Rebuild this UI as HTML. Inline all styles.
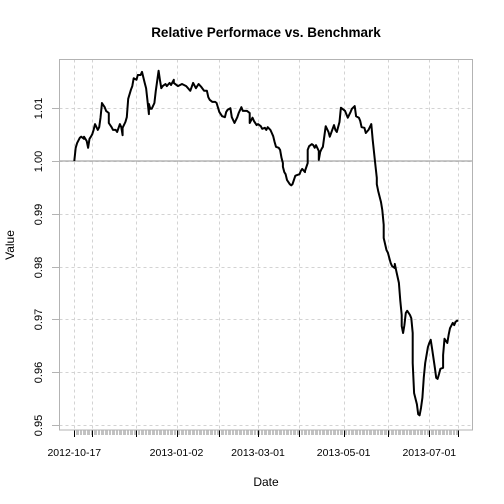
<!DOCTYPE html>
<html><head><meta charset="utf-8"><style>
html,body{margin:0;padding:0;background:#fff;}
svg{display:block;font-family:"Liberation Sans",Arial,sans-serif;}
</style></head><body>
<svg id="chart" width="504" height="504" viewBox="0 0 504 504">
<rect x="0" y="0" width="504" height="504" fill="#fff"/>
<text x="266" y="37" text-anchor="middle" font-size="13.5" font-weight="bold">Relative Performace vs. Benchmark</text>
<text x="266" y="486" text-anchor="middle" font-size="12">Date</text>
<text x="0" y="0" transform="translate(14,245) rotate(-90)" text-anchor="middle" font-size="12">Value</text>
<g id="grid"></g>
<g id="axes"></g>
<g id="series"></g>
<rect x="59.5" y="59.5" width="413" height="370.5" fill="none" stroke="#b3b3b3" stroke-width="1"/>
</svg>
<script>
const days=[0,1,2,4,5,7,7,9,10,11,12,13,14,15,17,18,19,20,20,22,23,25,25,27,28,30,31,33,34,35,35,37,38,39,41,42,43,45,46,48,49,51,52,53,54,54,55,56,58,59,61,62,63,64,66,67,69,70,72,72,75,78,81,84,86,88,90,92,94,96,97,98,100,102,103,105,107,109,110,111,113,114,116,118,119,121,122,124,125,127,127,129,130,132,133,135,136,138,139,140,142,143,144,145,146,148,149,150,151,151,152,153,154,156,157,158,159,160,161,163,164,165,167,167,169,169,170,172,173,174,175,177,177,178,179,180,182,184,185,188,189,190,192,193,195,196,198,200,201,203,204,206,207,208,210,211,213,215,216,218,219,219,220,222,223,224,224,226,227,229,230,232,232,233,235,236,237,237,238,239,240,241,243,244,245,245,246,248,249,250,251,252,253,254,256,257,258,259,261,262,263,264,265,267,267,268,270,271,272,274,275,276,277,278];
const values=[1.0000,1.0025,1.0034,1.0044,1.0046,1.0042,1.0046,1.0038,1.0025,1.0042,1.0046,1.0051,1.0059,1.0070,1.0059,1.0064,1.0082,1.0108,1.0110,1.0102,1.0095,1.0091,1.0072,1.0064,1.0059,1.0059,1.0055,1.0070,1.0064,1.0049,1.0063,1.0074,1.0083,1.0118,1.0135,1.0142,1.0157,1.0154,1.0163,1.0163,1.0169,1.0148,1.0138,1.0114,1.0089,1.0108,1.0099,1.0099,1.0110,1.0133,1.0171,1.0154,1.0138,1.0142,1.0146,1.0142,1.0148,1.0144,1.0154,1.0148,1.0142,1.0146,1.0142,1.0133,1.0148,1.0138,1.0146,1.0140,1.0133,1.0133,1.0121,1.0116,1.0112,1.0112,1.0110,1.0093,1.0085,1.0083,1.0093,1.0097,1.0100,1.0083,1.0072,1.0083,1.0091,1.0102,1.0095,1.0095,1.0095,1.0091,1.0072,1.0082,1.0076,1.0068,1.0070,1.0066,1.0061,1.0063,1.0059,1.0064,1.0059,1.0053,1.0047,1.0036,1.0027,1.0025,1.0021,1.0006,0.9996,0.9989,0.9979,0.9975,0.9964,0.9956,0.9954,0.9956,0.9964,0.9972,0.9973,0.9975,0.9981,0.9985,0.9979,0.9981,0.9996,1.0021,1.0028,1.0032,1.0030,1.0025,1.0030,1.0019,1.0002,1.0017,1.0023,1.0027,1.0066,1.0055,1.0046,1.0068,1.0059,1.0055,1.0074,1.0101,1.0097,1.0095,1.0082,1.0093,1.0099,1.0104,1.0085,1.0082,1.0076,1.0064,1.0063,1.0053,1.0059,1.0070,1.0040,0.9992,0.9968,0.9956,0.9943,0.9922,0.9907,0.9879,0.9854,0.9831,0.9826,0.9807,0.9801,0.9797,0.9805,0.9793,0.9769,0.9735,0.9708,0.9687,0.9674,0.9689,0.9712,0.9716,0.9708,0.9702,0.9674,0.9617,0.9560,0.9539,0.9520,0.9518,0.9532,0.9551,0.9590,0.9617,0.9647,0.9655,0.9661,0.9644,0.9609,0.9589,0.9587,0.9596,0.9606,0.9608,0.9632,0.9663,0.9655,0.9670,0.9683,0.9693,0.9689,0.9695,0.9697,0.9697];
const yTicks=[0.95,0.96,0.97,0.98,0.99,1.00,1.01];
const yTickLabels=["0.95","0.96","0.97","0.98","0.99","1.00","1.01"];
const xMajorDays=[0,13,45,74,105,133,163,195,227,257,278];
const xLabelDays=[0,74,133,195,257];
const xLabels=["2012-10-17","2013-01-02","2013-03-01","2013-05-01","2013-07-01"];
const baseline=1.0;
const maxDay=278;

const NS="http://www.w3.org/2000/svg";
function xs(d){return 74.3+d*(355/257);}
function ys(v){return 161-(v-1)*5275;}
function mk(tag,attrs,parent){const e=document.createElementNS(NS,tag);for(const k in attrs)e.setAttribute(k,attrs[k]);parent.appendChild(e);return e;}
const grid=document.getElementById('grid'),axes=document.getElementById('axes'),series=document.getElementById('series');

yTicks.forEach((t,i)=>{
  const y=Math.round(ys(t))+0.5;
  const g=mk('line',{x1:59.5,x2:472.5,y1:y,y2:y,stroke:'#d3d3d3','stroke-dasharray':'3,3'},grid);
  
  
  const tk=mk('line',{x1:52,x2:59.5,y1:y,y2:y,stroke:'#b3b3b3'},axes);
  
  
  const lb=mk('text',{transform:'translate(42,'+y+') rotate(-90)','text-anchor':'middle','font-size':'11'},axes);
  lb.textContent=yTickLabels[i];
  
  
});
for(let d=0;d<=maxDay;d++){
  const x=Math.round(xs(d))+0.5;
  const m=mk('line',{x1:x,x2:x,y1:430,y2:435,stroke:'#999','stroke-width':0.6},axes);
  
  
}
xMajorDays.forEach(d=>{
  const x=Math.round(xs(d))+0.5;
  const g=mk('line',{x1:x,x2:x,y1:59.5,y2:430,stroke:'#d3d3d3','stroke-dasharray':'3,3'},grid);
  
  
  const t=mk('line',{x1:x,x2:x,y1:430,y2:437,stroke:'#000'},axes);
  
  
});
xLabelDays.forEach((d,i)=>{
  const lb=mk('text',{x:xs(d),y:456,'text-anchor':'middle','font-size':'10.5'},axes);
  lb.textContent=xLabels[i];
  
  
});
const bl=mk('line',{x1:59.5,x2:472.5,y1:ys(baseline),y2:ys(baseline),stroke:'#a6a6a6','stroke-width':1.2},series);


const pts=days.map((d,i)=>xs(d).toFixed(1)+','+ys(values[i]).toFixed(1)).join(' ');
const pl=mk('polyline',{points:pts,fill:'none',stroke:'#000','stroke-width':2,'stroke-linejoin':'round'},series);


</script>
</body></html>
